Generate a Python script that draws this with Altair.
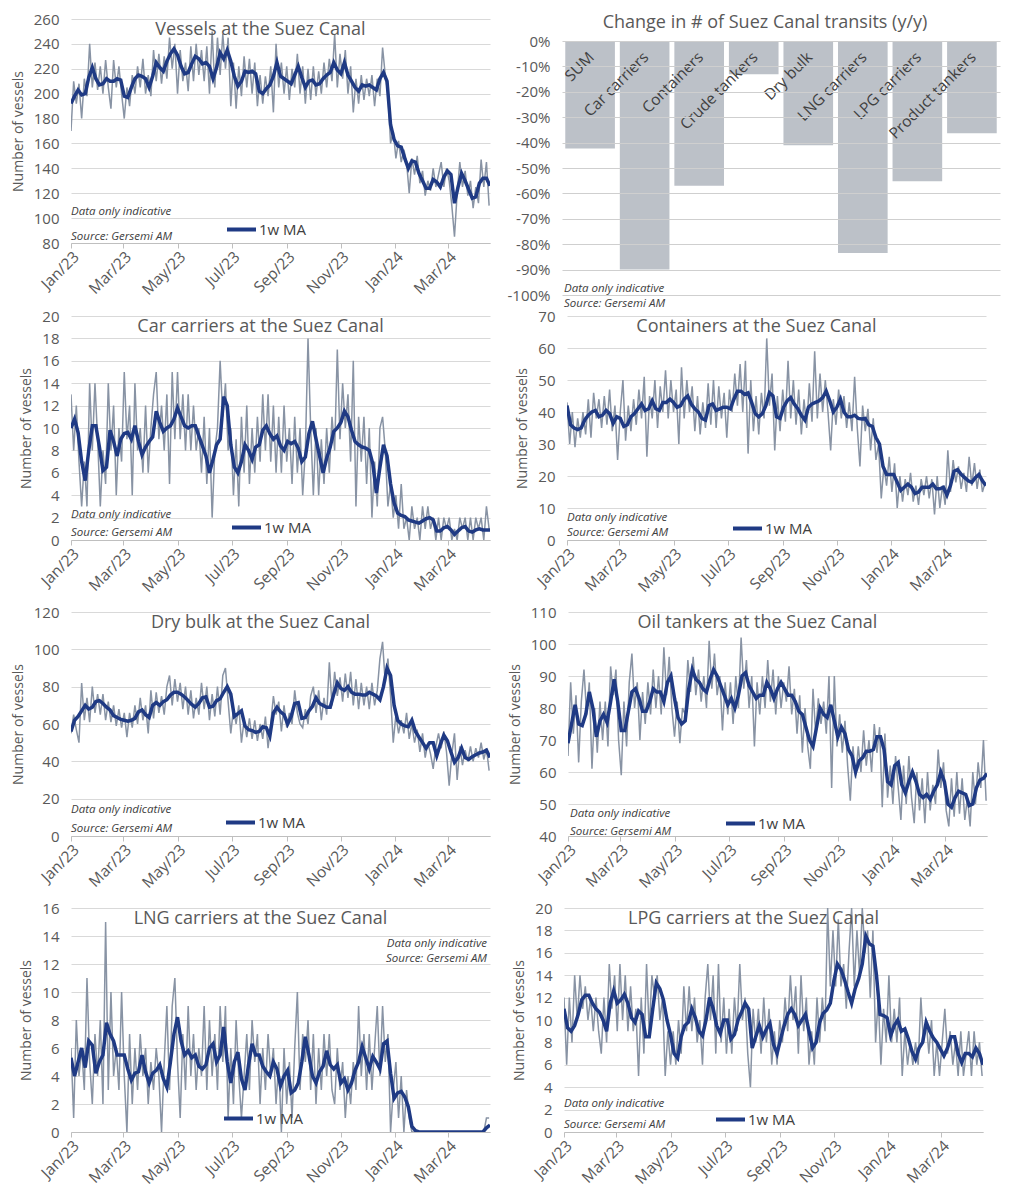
import altair as alt
import pandas as pd

# ---------------- data ----------------
START = "2023-01-01"
GRAY_STEP_DAYS = 3   # daily series, sampled every 3 days
MA_STEP_DAYS = 4     # 1w moving average, read every 4 days
tick_months = [(2023, 1), (2023, 3), (2023, 5), (2023, 7), (2023, 9), (2023, 11), (2024, 1), (2024, 3)]

vessels_daily = [170,210,192,208,180,212,198,240,205,225,
 203,222,200,227,205,188,227,205,222,200,
 180,205,190,215,200,222,205,228,200,215,
 198,235,210,232,208,230,212,245,220,240,
 200,235,210,225,202,238,210,240,215,235,
 210,238,200,250,205,245,215,248,220,245,
 190,225,188,222,198,230,205,228,200,225,
 190,215,192,214,198,222,185,240,205,225,
 200,222,195,220,205,232,200,222,192,220,
 195,222,198,218,200,225,205,228,210,248,
 205,232,212,235,200,222,185,212,192,215,
 195,212,198,215,190,212,198,237,215,200,
 160,170,148,162,145,155,145,120,148,135,
 150,128,138,118,130,122,140,125,135,145,
 125,140,130,110,85,120,145,125,138,118,
 130,108,125,112,147,125,145,110]
vessels_ma = [192,198,203,199,200,213,221,212,207,208,
 212,210,210,212,211,198,197,205,212,215,
 214,212,205,214,225,221,218,226,232,236,
 231,222,216,217,224,230,228,224,225,222,
 212,221,233,228,235,226,214,206,210,218,
 217,218,216,202,200,204,207,214,225,214,
 212,210,208,215,222,213,205,210,211,207,
 208,212,215,217,225,219,216,225,215,210,
 205,202,207,206,207,205,203,212,217,210,
 175,163,158,157,148,140,146,145,136,130,
 124,124,131,129,125,133,138,135,112,125,
 136,130,123,116,117,128,132,132,126]

car_daily = [13,8,12,7,3,7,3,14,8,14,
 9,3,8,5,14,8,12,4,10,7,
 15,9,12,4,14,8,10,6,12,6,
 10,13,15,9,12,8,13,5,15,9,
 15,9,13,8,13,8,12,8,10,6,
 11,5,10,2,8,10,16,11,14,8,
 10,4,9,3,11,6,12,5,10,6,
 11,7,13,8,13,7,12,6,11,6,
 12,7,10,5,11,6,10,4,8,18,
 10,4,10,4,9,5,10,6,11,8,
 17,9,14,10,13,7,16,3,11,7,
 11,5,10,2,7,3,10,11,8,3,
 5,2,4,1,5,1,2,0,3,1,
 2,0,3,1,3,1,2,0,2,0,
 2,1,2,0,1,0,2,1,2,0,
 2,0,2,1,2,0,3,1]
car_ma = [10.0,10.8,9.6,7.0,5.3,8.0,10.2,10.2,8.3,6.2,
 6.5,9.8,8.8,7.5,9.0,9.5,9.6,9.0,10.2,8.8,
 7.6,8.3,8.8,9.2,11.5,10.5,9.7,10.0,10.2,10.8,
 11.8,11.0,10.2,10.0,10.2,10.2,9.3,8.4,7.5,6.0,
 7.2,8.5,9.0,12.8,12.0,8.5,6.5,6.0,7.0,8.5,
 8.0,7.2,8.3,8.5,9.8,10.2,9.5,9.0,9.3,8.4,
 8.0,8.8,8.6,8.8,8.2,7.0,7.4,9.5,10.6,9.0,
 7.5,6.0,7.3,8.3,9.7,10.0,10.5,11.5,11.0,9.8,
 8.8,8.5,8.3,8.2,8.0,6.8,4.2,6.5,8.5,7.5,
 5.0,3.3,2.4,2.2,2.1,1.8,1.7,1.6,1.5,1.7,
 1.9,2.0,1.8,0.8,0.8,1.1,1.2,0.9,0.5,0.8,
 1.1,1.2,0.8,0.7,0.9,1.0,0.9,0.9,0.9]

containers_daily = [43,30,40,29,38,32,40,33,44,32,
 46,38,44,35,45,36,47,34,42,25,
 40,50,31,42,34,44,36,47,38,51,
 26,45,38,50,35,48,40,53,38,50,
 40,47,30,54,38,50,40,48,34,45,
 33,43,35,49,36,50,35,48,38,46,
 32,47,40,52,42,55,40,56,27,50,
 34,45,33,46,38,63,42,52,28,45,
 34,47,37,56,38,50,36,47,33,44,
 35,49,37,59,38,52,40,50,40,28,
 44,36,47,38,45,35,43,34,51,35,
 23,42,34,41,28,38,25,30,13,23,
 17,26,15,24,10,20,12,19,14,21,
 12,17,11,19,14,20,13,19,8,20,
 10,17,11,28,15,25,18,23,16,21,
 15,26,17,24,16,22,15,18]
containers_ma = [42,36,35,34.5,35,37.5,39,40,40.5,38.5,
 39,40.5,39.5,36.5,38.5,38,35.5,36,38.5,39.5,
 41,42.5,40.5,41,43.5,41,40.5,43,43,44,
 43,41.5,42,44,45,42.5,41,40,38,37.5,
 42,42.5,40.5,41,41.5,41.5,41,44,46.5,46.5,
 45.5,46,43,39.5,38.5,39.5,42,46,45,38.5,
 38,41.5,43.5,44.5,42.5,41,39,37.5,41.5,42.5,
 43,43.5,44.5,46.5,43.5,40,41.5,44,40,38.5,
 38.5,39,38,37.8,38,36,35.5,32,30,23,
 20.5,20.5,20.5,18,15.5,16.5,17.5,16.5,14.5,15,
 16.5,16.5,16.5,17.5,16,16,16.5,14,17,21.5,
 22,20.5,19.5,18.5,18,19.5,20.5,18.5,17]

drybulk_daily = [55,65,57,50,82,62,74,61,80,66,
 76,65,76,62,72,61,70,59,68,58,
 66,53,66,58,70,60,74,62,70,55,
 78,63,77,66,75,65,80,86,70,84,
 72,82,68,80,65,78,63,74,65,82,
 68,80,62,76,64,80,65,86,90,72,
 55,68,60,70,50,62,53,63,52,62,
 51,60,52,64,47,60,75,65,72,56,
 70,58,66,60,78,66,60,58,68,60,
 75,80,66,78,62,74,65,93,70,88,
 75,85,72,87,74,88,70,84,68,82,
 70,80,68,82,70,78,95,104,82,95,
 75,50,65,55,62,55,66,52,60,50,
 57,45,55,42,50,44,36,48,55,47,
 56,45,27,44,55,30,48,38,46,40,
 48,40,47,42,50,41,47,35]
drybulk_ma = [56,62,64,67,70,68,69,72,72.5,71,
 69,67.5,64.5,63.5,62.5,62,61.5,62,63,66.5,
 67.5,65,63.5,70,71.5,70,72,73,75.5,77,
 77,76,74.5,72.5,70.5,69,71,74,74.5,69,
 69.5,72.5,73.5,77,80,76,64,65.5,67,59,
 57,56.5,55.5,56,58.5,58,53.5,66,69,66.5,
 65,60,64,71,71.5,63,63.5,67,69.5,74,
 71,70,69,69,76,82,79,78,80,77,
 76,76,75.5,75.5,77,76,75,73,80,90,
 86,70,62,60,59,58.5,62,56,53,50,
 47,50,50,43,49,54,51,45,39.5,42,
 47,42,41,42.5,43.5,44.5,45,46,42]

oil_daily = [65,88,72,84,63,82,92,78,88,61,
 80,66,82,70,82,68,93,84,92,70,
 59,82,68,88,97,80,88,70,85,75,
 88,78,92,80,90,78,99,84,96,80,
 71,82,69,80,78,95,85,96,84,92,
 82,90,80,101,86,97,84,90,73,88,
 78,88,75,90,80,102,86,95,80,90,
 68,88,78,90,80,95,82,92,78,90,
 80,88,82,93,78,86,72,84,66,80,
 68,61,86,72,83,75,82,72,90,55,
 90,68,78,66,76,62,51,68,58,68,
 60,73,62,70,60,75,66,74,49,72,
 52,62,50,65,55,45,62,50,65,52,
 44,60,48,58,44,60,48,56,50,67,
 55,63,48,43,58,46,60,47,58,45,
 52,43,60,50,63,55,70,51]
oil_ma = [69,75,81,75,74.5,78,85,80,71,76,
 78,75.5,82,89,82,73,73,79,85,86,
 83,79,79,82,86,85,85,82,88,90,
 83,77,75,76,86,92,89,88,86,85,
 89,92,90,87,84,81,83,80,84,90,
 91,87,85,83,84,84,88,86,83,86,
 88,86,84,84,82,79,78,74,70,68,
 74,80,78,77,81,76,71,74,72,67,
 65,60,63.5,64.5,66.5,66.5,67,71,71,67,
 57,56,62,63,56,53.5,57,60,57,53,
 52,53,51.5,54,56,60,57,50,49,52,
 54,53.5,53,49.5,50,55,57.5,58,59.5]

lng_daily = [6,1,8,4,6,3,11,5,2,7,
 4,8,2,15,3,10,4,6,3,10,
 4,0,7,2,6,3,7,4,6,2,
 5,3,6,4,0,5,9,3,9,11,
 5,1,7,3,9,4,7,3,6,4,
 9,3,8,4,7,3,9,5,9,1,
 6,2,8,4,1,4,7,3,8,5,
 7,2,6,3,7,4,6,2,5,0,
 6,2,5,1,6,10,3,7,5,8,
 3,7,2,6,3,7,4,7,3,2,
 6,3,5,1,4,2,5,3,9,4,
 7,3,7,3,6,9,4,9,5,7,
 0,3,5,1,4,0,3,1,0,0,
 0,0,0,0,0,0,0,0,0,0,
 0,0,0,0,0,0,0,0,0,0,
 0,0,0,0,0,0,1,1]
lng_ma = [5.3,4.0,5.0,6.0,4.6,6.5,6.2,4.2,5.0,5.5,
 7.8,7.0,6.5,5.5,5.5,5.5,4.5,3.7,4.2,4.3,
 5.5,4.3,3.5,4.2,4.4,4.8,3.8,3.2,5.0,7.0,
 8.2,6.5,5.5,5.8,5.3,5.5,4.7,4.5,4.8,6.0,
 6.3,5.0,5.5,7.5,5.0,3.5,5.0,5.7,3.8,3.0,
 4.8,6.3,5.5,5.5,4.7,4.3,4.0,5.0,4.5,3.3,
 4.0,4.4,2.8,3.0,3.5,5.0,6.8,5.5,4.0,3.5,
 4.3,4.7,5.8,4.8,4.5,4.8,3.5,3.8,3.0,3.5,
 4.4,5.0,6.1,5.3,4.5,5.4,5.0,4.5,6.3,6.5,
 4.2,2.4,2.8,2.9,2.5,1.8,0.4,0.1,0,0,
 0,0,0,0,0,0,0,0,0,0,
 0,0,0,0,0,0,0,0.3,0.5]

lpg_daily = [12,6,12,8,14,10,14,11,13,10,
 12,9,12,9,7,12,8,15,11,14,
 9,15,10,14,9,13,9,11,5,12,
 7,15,9,14,12,14,10,12,5,9,
 6,9,6,10,7,13,9,13,9,12,
 8,10,6,12,15,10,14,7,15,8,
 12,7,11,7,12,9,15,10,12,7,
 4,11,8,11,7,12,8,11,6,9,
 6,10,8,12,9,14,10,13,7,14,
 9,12,6,9,6,12,8,12,9,20,
 13,18,13,19,13,15,11,16,20,13,
 18,14,20,16,18,12,18,8,12,6,
 11,8,14,8,11,8,12,5,9,6,
 8,6,8,6,12,8,10,7,10,5,
 8,5,8,11,7,9,6,8,5,9,
 5,7,9,5,9,6,8,5]
lpg_ma = [11,9.3,9.0,9.5,10.5,11.8,12.2,12.2,11.5,11.0,
 10.7,10.0,9.0,11.5,12.6,11.5,11.8,12.3,11.5,10.2,
 9.8,10.8,10.5,8.5,8.5,11.0,13.3,12.8,11.8,10.0,
 8.7,7.0,6.6,8.5,9.5,9.8,11.0,10.2,9.0,8.6,
 10.0,12.0,11.0,9.5,8.8,10.0,10.0,8.3,8.7,10.0,
 10.7,11.5,11.0,7.5,8.5,9.5,8.5,9.2,9.7,7.8,
 7.0,8.3,9.5,10.5,11.0,10.5,9.5,10.0,10.5,9.0,
 7.5,8.0,9.8,10.6,10.9,11.5,13.5,15.0,14.5,13.6,
 12.5,11.5,12.8,13.7,15.0,17.5,16.8,16.6,14.0,10.5,
 10.4,10.2,8.6,9.5,10.0,9.0,9.2,8.3,7.2,6.5,
 7.5,8.0,9.8,9.0,8.4,8.0,7.4,6.8,7.5,8.5,
 8.5,7.0,6.2,7.0,7.0,6.7,7.5,7.0,6.0]

bar_categories = ["SUM", "Car carriers", "Containers", "Crude tankers",
                  "Dry bulk", "LNG carriers", "LPG carriers", "Product tankers"]
bar_values = [-42.3, -90.0, -57.0, -13.1, -41.0, -83.5, -55.2, -36.3]

# ---------------- styling ----------------
FONT = "Open Sans"
TXT = "#595959"
DARK = "#404040"
GRAY = "#8893a4"
BLUE = "#1f3a84"
GRID = "#d9d9d9"
W, H = 419, 224
NOTE1, NOTE2 = "Data only indicative", "Source: Gersemi AM"
NOTE_SIZE = 11.5


def dt(y, m, d=1):
    return alt.DateTime(year=y, month=m, date=d)


def text_layer(txt, x, y, size, color=TXT, align="left", italic=False):
    return alt.Chart(pd.DataFrame({"t": [txt]})).mark_text(
        align=align, baseline="middle", font=FONT, fontSize=size, color=color,
        fontStyle="italic" if italic else "normal"
    ).encode(text="t:N", x=alt.value(x), y=alt.value(y))


def line_panel(title, daily, ma, ymin, ymax, ystep, leg_xy, notes_xy, notes_align="left"):
    g = pd.DataFrame({"date": pd.date_range(START, periods=len(daily), freq=f"{GRAY_STEP_DAYS}D"),
                      "v": daily})
    m = pd.DataFrame({"date": pd.date_range(START, periods=len(ma), freq=f"{MA_STEP_DAYS}D"),
                      "v": ma, "s": "1w MA"})
    xenc = alt.X("date:T",
                 scale=alt.Scale(domain=[dt(2023, 1, 1), dt(2024, 4, 17)]),
                 axis=alt.Axis(title=None, values=[dt(y, mo) for y, mo in tick_months],
                               format="%b/%y", labelAngle=315, labelAlign="right",
                               labelBaseline="top", grid=False, domainColor="#bfbfbf",
                               tickColor="#bfbfbf", tickSize=5, labelFontSize=15.5,
                               labelColor=TXT, labelFont=FONT, labelPadding=1,
                               labelOverlap=False))
    yvals = list(range(ymin, ymax + 1, ystep))
    yenc = alt.Y("v:Q",
                 scale=alt.Scale(domain=[ymin, ymax], nice=False, zero=False),
                 axis=alt.Axis(title="Number of vessels", values=yvals, tickCount=len(yvals),
                               domain=False, ticks=False, tickSize=0, gridColor=GRID,
                               labelFontSize=15, labelColor=TXT, labelFont=FONT, labelPadding=12,
                               labelOverlap=False, labelSeparation=0,
                               titleFont=FONT, titleFontSize=14, titleFontWeight="normal",
                               titleColor=TXT, titlePadding=8))
    gray = alt.Chart(g).mark_line(color=GRAY, strokeWidth=1.5, clip=True).encode(x=xenc, y=yenc)
    blue = alt.Chart(m).mark_line(strokeWidth=3.5, clip=True).encode(
        x=xenc, y=yenc,
        color=alt.Color("s:N", scale=alt.Scale(domain=["1w MA"], range=[BLUE]),
                        legend=alt.Legend(title=None, orient="none", legendX=leg_xy[0],
                                          legendY=leg_xy[1], symbolType="stroke",
                                          symbolStrokeWidth=4, symbolSize=841,
                                          labelFontSize=15, labelColor=DARK, labelFont=FONT,
                                          labelOffset=1, padding=0)))
    ttl = text_layer(title, W / 2 - 20, 11, 18, align="center")
    nx, ny1, ny2 = notes_xy
    n1 = text_layer(NOTE1, nx, ny1 - 0.5, NOTE_SIZE, DARK, notes_align, True)
    n2 = text_layer(NOTE2, nx, ny2 + 0.5, NOTE_SIZE, DARK, notes_align, True)
    return alt.layer(gray, blue, ttl, n1, n2).properties(width=W, height=H)


def bar_panel():
    bdf = pd.DataFrame({"cat": bar_categories, "v": bar_values})
    BW, BH = 438, 276
    TOP = 22  # room for the title above the 0% line
    yvals = list(range(-100, 1, 10))
    x = alt.X("cat:N", sort=None, scale=alt.Scale(paddingInner=0.09, paddingOuter=0.06), axis=None)
    y = alt.Y("v:Q", scale=alt.Scale(domain=[-100, 0], nice=False, range=[BH, TOP]),
              axis=alt.Axis(title=None, values=yvals, tickCount=len(yvals),
                            labelExpr="datum.value + '%'", domain=False, ticks=False, tickSize=0,
                            gridColor="#cfcfcf", zindex=1, labelFontSize=15, labelColor=TXT,
                            labelFont=FONT, labelPadding=12, labelOverlap=False,
                            labelSeparation=0))
    bars = alt.Chart(bdf).mark_bar(color="#bcc1c8").encode(x=x, y=y)
    labels = alt.Chart(bdf).mark_text(angle=315, align="right", baseline="middle", font=FONT,
                                      fontSize=15.5, color=DARK, dx=2).encode(
        x=alt.X("cat:N", sort=None), y=alt.datum(-6), text="cat:N")
    ttl = text_layer("Change in # of Suez Canal transits (y/y)", BW / 2 - 16, 4, 18, align="center")
    n1 = text_layer(NOTE1, 2, TOP + 247.5, NOTE_SIZE, DARK, "left", True)
    n2 = text_layer(NOTE2, 2, TOP + 262.5, NOTE_SIZE, DARK, "left", True)
    return alt.layer(bars, labels, ttl, n1, n2).properties(width=BW, height=BH)


def indep(c):
    return c.resolve_scale(color="independent").resolve_legend(color="independent")


p_vessels = line_panel("Vessels at the Suez Canal", vessels_daily, vessels_ma, 80, 260, 20,
                       (154, 194), (0, 193, 217))
p_car = line_panel("Car carriers at the Suez Canal", car_daily, car_ma, 0, 20, 2,
                   (159, 195), (0, 199, 216))
p_cont = line_panel("Containers at the Suez Canal", containers_daily, containers_ma, 0, 70, 10,
                    (164, 196), (0, 202, 216))
p_dry = line_panel("Dry bulk at the Suez Canal", drybulk_daily, drybulk_ma, 0, 120, 20,
                   (153, 194), (0, 198, 216))
p_oil = line_panel("Oil tankers at the Suez Canal", oil_daily, oil_ma, 40, 110, 10,
                   (156, 195), (2, 202, 219))
p_lng = line_panel("LNG carriers at the Suez Canal", lng_daily, lng_ma, 0, 16, 2,
                   (151, 194), (W - 3, 36, 50), "right")
p_lpg = line_panel("LPG carriers at the Suez Canal", lpg_daily, lpg_ma, 0, 20, 2,
                   (150, 195), (0, 196, 216))

row1 = indep(alt.hconcat(p_vessels, bar_panel(), spacing=17))
row2 = indep(alt.hconcat(p_car, p_cont, spacing=25))
row3 = indep(alt.hconcat(p_dry, p_oil, spacing=18))
row4 = indep(alt.hconcat(p_lng, p_lpg, spacing=22))

lower = indep(alt.vconcat(row2, row3, row4, spacing=10))
chart = indep(alt.vconcat(row1, lower, spacing=0)).properties(
    padding={"left": 3, "top": 4, "right": 3, "bottom": 3}, background="white"
).configure_view(stroke=None).configure_axis(labelOverlap=False)

chart.save("out.html", embed_options={"renderer": "svg", "actions": False})
